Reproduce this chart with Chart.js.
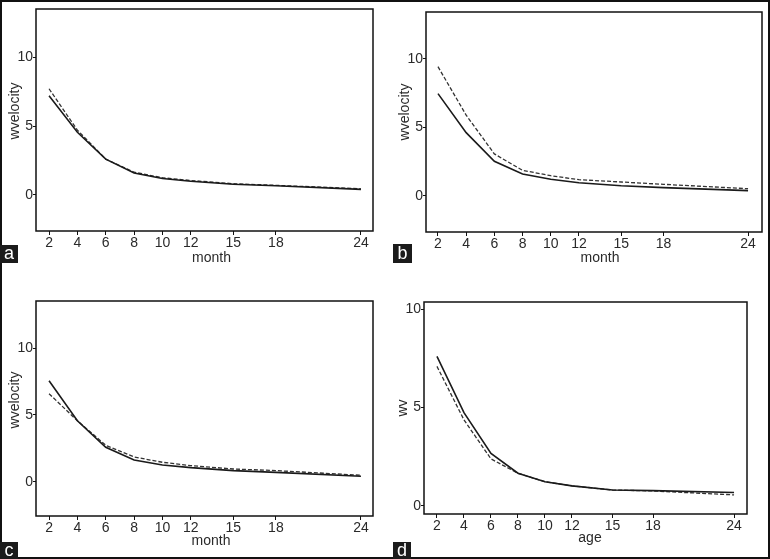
<!DOCTYPE html>
<html>
<head>
<meta charset="utf-8">
<script src="https://cdn.jsdelivr.net/npm/chart.js@4.4.1/dist/chart.umd.min.js"></script>
<style>
  html, body { margin: 0; padding: 0; background: #fff; }
  #wrap { position: relative; width: 770px; height: 559px; overflow: hidden; background: #fff; }
  canvas { position: absolute; }
  .frame { position: absolute; left: 0; top: 0; width: 770px; height: 559px; box-sizing: border-box; border: 2px solid #111; pointer-events: none; }
  .tag { position: absolute; background: #1b1b1b; color: #fff; font-family: "Liberation Sans", Arial, sans-serif; font-size: 18px; text-align: center; }
</style>
</head>
<body>
<div id="wrap">
  <canvas id="ca" width="385" height="280" style="left:0;top:0;width:385px;height:280px"></canvas>
  <canvas id="cb" width="385" height="280" style="left:385px;top:0;width:385px;height:280px"></canvas>
  <canvas id="cc" width="385" height="279" style="left:0;top:280px;width:385px;height:279px"></canvas>
  <canvas id="cd" width="385" height="279" style="left:385px;top:280px;width:385px;height:279px"></canvas>
  <div class="frame"></div>
  <div class="tag" style="left:0;top:245px;width:18px;height:18px;line-height:17px;">a</div>
  <div class="tag" style="left:393px;top:244px;width:19px;height:19px;line-height:18px;">b</div>
  <div class="tag" style="left:0;top:542px;width:18px;height:17px;line-height:17px;">c</div>
  <div class="tag" style="left:393px;top:542px;width:18px;height:17px;line-height:17px;">d</div>
</div>
<script>
// ---- data ----
const months = [2, 4, 6, 8, 10, 12, 15, 18, 24];
const xTickValues = [2, 4, 6, 8, 10, 12, 15, 18, 24];
const yTickValues = [0, 5, 10];

const aSolid  = [7.2, 4.55, 2.6, 1.6, 1.2, 1.0, 0.78, 0.67, 0.41];
const aDashed = [7.7, 4.7, 2.6, 1.65, 1.25, 1.05, 0.82, 0.7, 0.45];
const bSolid  = [7.47, 4.62, 2.53, 1.6, 1.22, 0.97, 0.75, 0.61, 0.39];
const bDashed = [9.44, 5.9, 3.07, 1.87, 1.48, 1.19, 1.02, 0.85, 0.53];
const cSolid  = [7.56, 4.57, 2.59, 1.64, 1.27, 1.07, 0.85, 0.72, 0.43];
const cDashed = [6.59, 4.57, 2.74, 1.87, 1.47, 1.22, 0.97, 0.85, 0.5];
const dSolid  = [7.6, 4.74, 2.67, 1.66, 1.23, 1.02, 0.81, 0.78, 0.68];
const dDashed = [7.09, 4.37, 2.39, 1.66, 1.23, 1.02, 0.81, 0.76, 0.56];

const xTitles = ['month', 'month', 'month', 'age'];
const yTitles = ['wvelocity', 'wvelocity', 'wvelocity', 'wv'];

// ---- layout ----
const panels = [
  { id: 'ca', w: 385, h: 280, ca: { l: 36, r: 373, t: 9,  b: 231 }, xmin: 1.08, xmax: 24.85, ymin: -2.61, ymax: 13.48, ytX: 15, ytY: 111, xtX: 211.5, xtY: 258 },
  { id: 'cb', w: 385, h: 280, ca: { l: 41, r: 377, t: 12, b: 232 }, xmin: 1.15, xmax: 24.99, ymin: -2.63, ymax: 13.43, ytX: 20, ytY: 112, xtX: 215,   xtY: 258.5 },
  { id: 'cc', w: 385, h: 279, ca: { l: 36, r: 373, t: 21, b: 236 }, xmin: 1.08, xmax: 24.85, ymin: -2.54, ymax: 13.51, ytX: 15, ytY: 120, xtX: 211,   xtY: 261.2 },
  { id: 'cd', w: 385, h: 279, ca: { l: 39, r: 362, t: 22, b: 234 }, xmin: 1.04, xmax: 24.96, ymin: -0.41, ymax: 10.36, ytX: 18, ytY: 128, xtX: 205,   xtY: 258.2 }
];
const series = [[aSolid, aDashed], [bSolid, bDashed], [cSolid, cDashed], [dSolid, dDashed]];

const FAMILY = '"Liberation Sans Narrow", "Arial Narrow", "Liberation Sans", Arial, sans-serif';
const FONT = { family: FAMILY, size: 14, lineHeight: 1.15 };
const TXT = '#2a2a2a';

const boxPlugin = {
  id: 'box',
  afterDraw(chart) {
    const { left, top, right, bottom } = chart.chartArea;
    const c = chart.ctx;
    c.save();
    c.strokeStyle = '#111';
    c.lineWidth = 1.5;
    c.strokeRect(left, top, right - left, bottom - top);
    c.restore();
  }
};

// axis titles drawn as canvas text at the reference's (slightly off-centre) positions
const titlePlugin = {
  id: 'titles',
  afterDraw(chart, args, opts) {
    const c = chart.ctx;
    c.save();
    c.fillStyle = TXT;
    c.font = FONT.size + 'px ' + FAMILY;
    c.textAlign = 'center';
    c.textBaseline = 'middle';
    c.fillText(opts.xText, opts.xx, opts.xy);
    c.translate(opts.yx, opts.yy);
    c.rotate(-Math.PI / 2);
    c.fillText(opts.yText, 0, 0);
    c.restore();
  }
};

panels.forEach((p, i) => {
  const [solid, dashed] = series[i];
  new Chart(document.getElementById(p.id), {
    type: 'line',
    data: {
      datasets: [
        { data: months.map((m, k) => ({ x: m, y: solid[k] })), borderColor: '#1a1a1a', borderWidth: 1.6, pointRadius: 0, tension: 0, fill: false },
        { data: months.map((m, k) => ({ x: m, y: dashed[k] })), borderColor: '#333', borderWidth: 1.3, borderDash: [4, 2], pointRadius: 0, tension: 0, fill: false }
      ]
    },
    options: {
      responsive: false,
      animation: false,
      devicePixelRatio: 1,
      layout: { padding: { left: 0, top: p.ca.t, right: p.w - p.ca.r, bottom: 0 } },
      plugins: {
        legend: { display: false }, tooltip: { enabled: false },
        titles: { xText: xTitles[i], xx: p.xtX, xy: p.xtY, yText: yTitles[i], yx: p.ytX, yy: p.ytY }
      },
      scales: {
        x: {
          type: 'linear', min: p.xmin, max: p.xmax,
          afterBuildTicks: s => { s.ticks = xTickValues.map(v => ({ value: v })); },
          afterFit: s => { s.height = p.h - p.ca.b; },
          grid: { display: true, drawOnChartArea: false, drawTicks: true, tickLength: 4, color: '#111', lineWidth: 1 },
          border: { display: false },
          ticks: { padding: 0, color: TXT, font: FONT, autoSkip: false, maxRotation: 0 },
          title: { display: false }
        },
        y: {
          type: 'linear', min: p.ymin, max: p.ymax,
          afterBuildTicks: s => { s.ticks = yTickValues.map(v => ({ value: v })); },
          afterFit: s => { s.width = p.ca.l; },
          grid: { display: true, drawOnChartArea: false, drawTicks: true, tickLength: 3, color: '#111', lineWidth: 1 },
          border: { display: false },
          ticks: { padding: 0, color: TXT, font: FONT, autoSkip: false },
          title: { display: false }
        }
      }
    },
    plugins: [boxPlugin, titlePlugin]
  });
});
</script>
</body>
</html>
